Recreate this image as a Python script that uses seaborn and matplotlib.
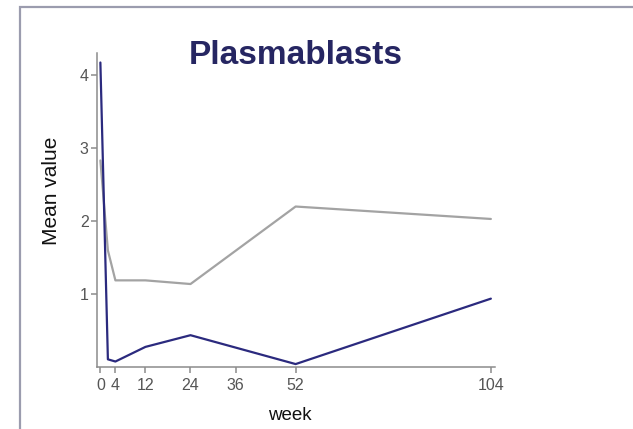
import matplotlib
matplotlib.use("Agg")
import matplotlib.pyplot as plt
import seaborn as sns
import pandas as pd
from matplotlib.patches import Rectangle

weeks = [0, 2, 4, 12, 24, 52, 104]
blue_values = [4.17, 0.11, 0.08, 0.28, 0.44, 0.045, 0.94]
gray_values = [2.83, 1.60, 1.19, 1.19, 1.14, 2.20, 2.03]
x_ticks = [0, 4, 12, 24, 36, 52, 104]
y_ticks = [1, 2, 3, 4]
title = "Plasmablasts"

df = pd.DataFrame({
    "week": weeks * 2,
    "value": blue_values + gray_values,
    "group": ["A"] * len(weeks) + ["B"] * len(weeks),
})

sns.set_theme(style="ticks")
fam = ["Liberation Sans", "DejaVu Sans"]
plt.rcParams["font.family"] = fam

fig = plt.figure(figsize=(6.33, 4.29), dpi=100)
ax = fig.add_axes([97/633, 1-367/429, (495-97)/633, (367-53)/429])

sns.lineplot(data=df, x="week", y="value", hue="group",
             palette={"A": "#2b2a7e", "B": "#a3a3a3"}, ax=ax,
             legend=False, linewidth=1.6, hue_order=["B", "A"])

ax.set_xlim(-0.9, 105.1)
ax.set_ylim(0.005, 4.30)
ax.set_xticks(x_ticks)
ax.set_yticks(y_ticks)
ax.set_xlabel("")
ax.set_ylabel("")
for s in ["top", "right"]:
    ax.spines[s].set_visible(False)
for s in ["left", "bottom"]:
    ax.spines[s].set_color("#8c8c8c")
    ax.spines[s].set_linewidth(1.1)
ax.tick_params(colors="#8c8c8c", labelcolor="#555555", length=4, width=1.1,
               labelsize=11.5)
ax.tick_params(axis="x", pad=4)
ax.tick_params(axis="y", pad=2)

fig.text(296/633, 1-63.5/429, title, ha="center", va="baseline",
         fontsize=24, fontweight="bold", color="#262662")
fig.text(289.5/633, 1-420.5/429, "week", ha="center", va="baseline",
         fontsize=13.5, color="#111111")
fig.text(51.5/633, 238/429, "Mean value", ha="center", va="center",
         rotation=90, fontsize=15, color="#111111")

fig.patches.append(Rectangle((19.5/633, -0.1), 1.2, 1.1 - 7.5/429,
                             transform=fig.transFigure, fill=False,
                             edgecolor="#9b9cae", linewidth=1.6))

fig.savefig("out.png", dpi=100)
